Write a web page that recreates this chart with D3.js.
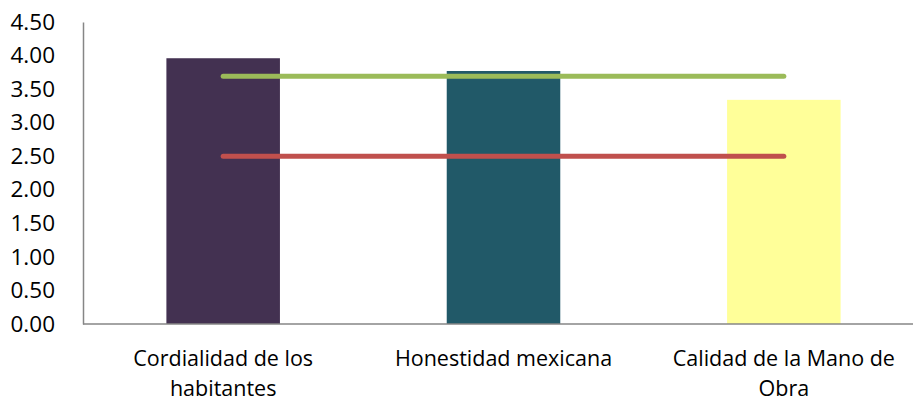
<!DOCTYPE html>
<html><head><meta charset="utf-8">
<script src="https://cdn.jsdelivr.net/npm/d3@7"></script>
<style>body{margin:0;background:#fff}svg{display:block}text{font-family:"Open Sans",Lato,sans-serif;fill:#000}</style>
</head><body><svg id="c" width="913" height="402"></svg>
<script>
const categories = [["Cordialidad de los","habitantes"],["Honestidad mexicana"],["Calidad de la Mano de","Obra"]];
const barValues = [3.96, 3.77, 3.34];
const barColors = ["#433151", "#215968", "#FFFF99"];
const greenLine = [3.69, 3.69, 3.69];
const redLine = [2.50, 2.50, 2.50];
const yTicks = [0,0.5,1,1.5,2,2.5,3,3.5,4,4.5];

(function(){
const svg = d3.select("#c");
const mLeft = 83, mRight = 924, mTop = 22, mBottom = 324;
const x = d3.scaleBand().domain(d3.range(categories.length)).range([mLeft, mRight]).paddingInner(0.595).paddingOuter(0.2975);
const y = d3.scaleLinear().domain([0, 4.5]).range([mBottom, mTop]);

svg.append("g").selectAll("rect").data(barValues).join("rect")
  .attr("x", (d,i)=>x(i)).attr("width", x.bandwidth())
  .attr("y", d=>y(d)).attr("height", d=>y(0)-y(d))
  .attr("fill", (d,i)=>barColors[i]);

const cx = i => x(i) + x.bandwidth()/2;
const line = d3.line().x((d,i)=>cx(i)).y(d=>y(d));
[[greenLine,"#9BBB59"],[redLine,"#C0504D"]].forEach(([data,col])=>{
  svg.append("path").attr("d", line(data)).attr("fill","none")
    .attr("stroke", col).attr("stroke-width", 5).attr("stroke-linecap","round");
});

const yAxis = d3.axisLeft(y).tickValues(yTicks).tickFormat(d3.format(".2f")).tickSize(0).tickPadding(28);
const gy = svg.append("g").attr("transform", `translate(${mLeft},0)`).call(yAxis);
gy.select(".domain").attr("stroke","#868686").attr("stroke-width",1.5);
gy.selectAll("text").style("font-size","22.5px").attr("fill","#000");

svg.append("line").attr("x1", mLeft).attr("x2", 913).attr("y1", mBottom).attr("y2", mBottom)
  .attr("stroke","#868686").attr("stroke-width",1.5);

const xAxis = d3.axisBottom(x).tickSize(0).tickFormat("");
const gx = svg.append("g").attr("transform", `translate(0,${mBottom})`).call(xAxis);
gx.select(".domain").remove();
gx.selectAll(".tick").each(function(d){
  const t = d3.select(this).append("text").attr("text-anchor","middle").style("font-size","21.5px");
  categories[d].forEach((s,k)=>t.append("tspan").attr("x",0).attr("y", 42 + k*29.5).text(s));
});
})();
</script></body></html>
